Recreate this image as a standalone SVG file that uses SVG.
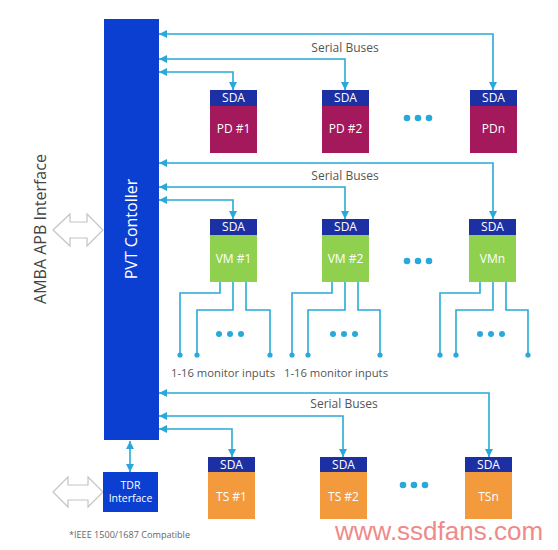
<svg xmlns="http://www.w3.org/2000/svg" width="558" height="550" viewBox="0 0 558 550">
<defs>
<style>
.t{font-family:"Open Sans","Liberation Sans",sans-serif;}
.bus{fill:none;stroke:#29a9d9;stroke-width:1.6;marker-start:url(#ah);marker-end:url(#ah);}
.mon{fill:none;stroke:#29a9d9;stroke-width:1.6;}
.dot{fill:#29a9d9;}
.sda{fill:#1c2fa3;}
.pd{fill:#a3195b;}
.vm{fill:#8fd14f;}
.ts{fill:#f39a3c;}
.wl{fill:#ffffff;font-size:12px;text-anchor:middle;}
.lbl{fill:#555555;font-size:12px;text-anchor:middle;}
.hollow{fill:#ffffff;stroke:#c4c4c4;stroke-width:1.2;}
</style>
<marker id="ah" viewBox="0 0 10 10" refX="10" refY="5" markerUnits="userSpaceOnUse" markerWidth="8" markerHeight="8" orient="auto-start-reverse">
<path d="M0,0 L10,5 L0,10 z" fill="#29a9d9"/>
</marker>
</defs>
<rect width="558" height="550" fill="#ffffff"/>

<g id="amba">
<polygon class="hollow" points="53,230 70,214 70,222 87,222 87,214 103,230 87,246 87,238 70,238 70,246"/>
<text class="t" transform="translate(46,229) rotate(-90)" font-size="16" fill="#444444" text-anchor="middle">AMBA APB Interface</text>
</g>

<g id="controller">
<rect x="104" y="19" width="55" height="421" fill="#0b3fd2"/>
<text class="t" transform="translate(137,229) rotate(-90)" font-size="16" fill="#ffffff" text-anchor="middle">PVT Contoller</text>
</g>

<g id="tdr">
<polygon class="hollow" points="53,492 68,477 68,485 88,485 88,477 103,492 88,507 88,500 68,500 68,507"/>
<rect x="103" y="472" width="55" height="40" fill="#0b3fd2"/>
<text class="t" x="130.5" y="489" font-size="10.5" fill="#ffffff" text-anchor="middle">TDR</text>
<text class="t" x="130.5" y="502" font-size="10.5" fill="#ffffff" text-anchor="middle">Interface</text>
</g>

<g id="connectors">
<path class="bus" d="M159,34 H493 V90"/>
<path class="bus" d="M159,59 H345 V90"/>
<path class="bus" d="M159,72 H233 V90"/>
<path class="bus" d="M159,163 H493 V219"/>
<path class="bus" d="M159,187 H345 V219"/>
<path class="bus" d="M159,200 H233 V219"/>
<path class="bus" d="M159,393 H489 V457"/>
<path class="bus" d="M159,416 H343 V457"/>
<path class="bus" d="M159,429 H232 V457"/>
<path class="bus" d="M130,441 V472"/>
<path class="mon" d="M220,282 V293 H180 V355"/>
<path class="mon" d="M233,282 V310 H197 V355"/>
<path class="mon" d="M246,282 V310 H270 V355"/>
<path class="mon" d="M332,282 V293 H292 V355"/>
<path class="mon" d="M345,282 V310 H308 V355"/>
<path class="mon" d="M358,282 V310 H380 V355"/>
<path class="mon" d="M480,282 V293 H440 V355"/>
<path class="mon" d="M493,282 V310 H456 V355"/>
<path class="mon" d="M506,282 V310 H528 V355"/>
<g class="dot">
<circle cx="180" cy="355" r="2.6"/><circle cx="197" cy="355" r="2.6"/><circle cx="270" cy="355" r="2.6"/>
<circle cx="292" cy="355" r="2.6"/><circle cx="308" cy="355" r="2.6"/><circle cx="380" cy="355" r="2.6"/>
<circle cx="440" cy="355" r="2.6"/><circle cx="456" cy="355" r="2.6"/><circle cx="528" cy="355" r="2.6"/>
</g>
</g>

<g id="labels">
<text class="t lbl" x="345" y="52">Serial Buses</text>
<text class="t lbl" x="345" y="180">Serial Buses</text>
<text class="t lbl" x="344" y="408">Serial Buses</text>
<text class="t" x="171" y="377" font-size="11.5" fill="#555555" textLength="104" lengthAdjust="spacingAndGlyphs">1-16 monitor inputs</text>
<text class="t" x="284" y="377" font-size="11.5" fill="#555555" textLength="104" lengthAdjust="spacingAndGlyphs">1-16 monitor inputs</text>
<text class="t" x="69" y="538" font-size="9" fill="#666666" textLength="121" lengthAdjust="spacingAndGlyphs">*IEEE 1500/1687 Compatible</text>
<text x="335" y="540" font-family="Liberation Sans, Arial, sans-serif" font-size="26" fill="#ef8a8a">www.ssdfans.com</text>
</g>

<g id="ellipses" class="dot">
<circle cx="407" cy="118" r="3.3"/><circle cx="418" cy="118" r="3.3"/><circle cx="429" cy="118" r="3.3"/>
<circle cx="407" cy="261" r="3.3"/><circle cx="418" cy="261" r="3.3"/><circle cx="429" cy="261" r="3.3"/>
<circle cx="403" cy="485" r="3.3"/><circle cx="414" cy="485" r="3.3"/><circle cx="425" cy="485" r="3.3"/>
<circle cx="219" cy="334" r="3"/><circle cx="230" cy="334" r="3"/><circle cx="241" cy="334" r="3"/>
<circle cx="333" cy="334" r="3"/><circle cx="344" cy="334" r="3"/><circle cx="355" cy="334" r="3"/>
<circle cx="480" cy="334" r="3"/><circle cx="491" cy="334" r="3"/><circle cx="502" cy="334" r="3"/>
</g>

<g id="pd1"><rect class="pd" x="210" y="90" width="47" height="63"/><rect class="sda" x="210" y="90" width="47" height="16"/>
<text class="t wl" x="233.5" y="102">SDA</text><text class="t wl" x="233.5" y="133">PD #1</text></g>
<g id="pd2"><rect class="pd" x="322" y="90" width="47" height="63"/><rect class="sda" x="322" y="90" width="47" height="16"/>
<text class="t wl" x="345.5" y="102">SDA</text><text class="t wl" x="345.5" y="133">PD #2</text></g>
<g id="pdn"><rect class="pd" x="470" y="90" width="47" height="63"/><rect class="sda" x="470" y="90" width="47" height="16"/>
<text class="t wl" x="493.5" y="102">SDA</text><text class="t wl" x="493.5" y="133">PDn</text></g>

<g id="vm1"><rect class="vm" x="210" y="219" width="47" height="63"/><rect class="sda" x="210" y="219" width="47" height="16"/>
<text class="t wl" x="233.5" y="231">SDA</text><text class="t wl" x="233.5" y="263">VM #1</text></g>
<g id="vm2"><rect class="vm" x="322" y="219" width="47" height="63"/><rect class="sda" x="322" y="219" width="47" height="16"/>
<text class="t wl" x="345.5" y="231">SDA</text><text class="t wl" x="345.5" y="263">VM #2</text></g>
<g id="vmn"><rect class="vm" x="469" y="219" width="47" height="63"/><rect class="sda" x="469" y="219" width="47" height="16"/>
<text class="t wl" x="492.5" y="231">SDA</text><text class="t wl" x="492.5" y="263">VMn</text></g>

<g id="ts1"><rect class="ts" x="208" y="457" width="47" height="62"/><rect class="sda" x="208" y="457" width="47" height="15"/>
<text class="t wl" x="231.5" y="469">SDA</text><text class="t wl" x="231.5" y="501">TS #1</text></g>
<g id="ts2"><rect class="ts" x="320" y="457" width="47" height="62"/><rect class="sda" x="320" y="457" width="47" height="15"/>
<text class="t wl" x="343.5" y="469">SDA</text><text class="t wl" x="343.5" y="501">TS #2</text></g>
<g id="tsn"><rect class="ts" x="465" y="457" width="47" height="62"/><rect class="sda" x="465" y="457" width="47" height="15"/>
<text class="t wl" x="488.5" y="469">SDA</text><text class="t wl" x="488.5" y="501">TSn</text></g>
</svg>
